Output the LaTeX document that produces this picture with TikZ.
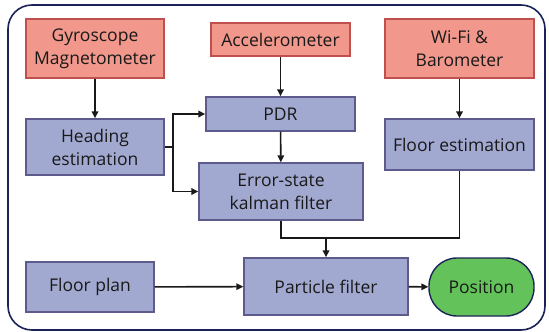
\documentclass[tikz,border=0pt]{standalone}
\usepackage{fontspec}
\setmainfont{Open Sans}
\usetikzlibrary{arrows.meta}
\definecolor{redfill}{HTML}{F1978B}
\definecolor{redline}{HTML}{C0504D}
\definecolor{bluefill}{HTML}{A2A9D1}
\definecolor{blueline}{HTML}{5F5A8C}
\definecolor{greenfill}{HTML}{63C35A}
\definecolor{navy}{HTML}{1B2358}
\tikzset{
  box/.style={draw, line width=1.4pt, align=center, inner sep=0pt, font=\fontsize{17.5}{23}\selectfont, text=black!90},
  redbox/.style={box, fill=redfill, draw=redline},
  bluebox/.style={box, fill=bluefill, draw=blueline},
  posbox/.style={box, fill=greenfill, draw=navy, rounded corners=28pt},
  arr/.style={line width=1.6pt, draw=black!90, -{Triangle[length=7pt,width=6.5pt]}},
  ln/.style={line width=1.6pt, draw=black!90},
}
\begin{document}
\begin{tikzpicture}[x=1pt,y=-1pt]
\useasboundingbox (0,0) rectangle (549,332);
\draw[line width=1.6pt, draw=navy, rounded corners=24pt] (8,5) rectangle (545,330);
\node[redbox, minimum width=138pt, minimum height=59pt] (gyro) at (95,48.5) {Gyroscope\\Magnetometer};
\node[redbox, minimum width=139pt, minimum height=33pt] (acc) at (280.5,39.5) {Accelerometer};
\node[redbox, minimum width=149pt, minimum height=59pt] (wifi) at (459.5,48.5) {Wi-Fi \&\\Barometer};
\node[bluebox, minimum width=138pt, minimum height=56pt] (head) at (95,147) {Heading\\estimation};
\node[bluebox, minimum width=149pt, minimum height=34pt] (pdr) at (280.5,114) {PDR};
\node[bluebox, minimum width=149pt, minimum height=51pt] (floor) at (459.5,144.5) {Floor estimation};
\node[bluebox, minimum width=164pt, minimum height=57pt] (ekf) at (281,191.5) {Error-state\\kalman filter};
\node[bluebox, minimum width=128pt, minimum height=50pt] (plan) at (90,287) {Floor plan};
\node[bluebox, minimum width=164pt, minimum height=57pt] (pf) at (326,286.5) {Particle filter};
\node[posbox, minimum width=105pt, minimum height=58pt] (pos) at (481.5,287) {Position};
\coordinate (split) at (173,147);
\coordinate (join) at (326,238);
\draw[arr] (gyro) -- (head);
\draw[arr] (acc) -- (pdr);
\draw[arr] (pdr) -- (ekf);
\draw[arr] (wifi) -- (floor);
\draw[ln] (head.east) -- (split);
\draw[arr] (split) |- (pdr.west);
\draw[arr] (split) |- (ekf.west);
\draw[ln] (ekf.south) |- (join);
\draw[ln] (floor.south) |- (join);
\draw[arr] (join) -- (pf.north);
\draw[arr] (plan) -- (pf);
\draw[arr] (pf) -- (pos);
\end{tikzpicture}
\end{document}
